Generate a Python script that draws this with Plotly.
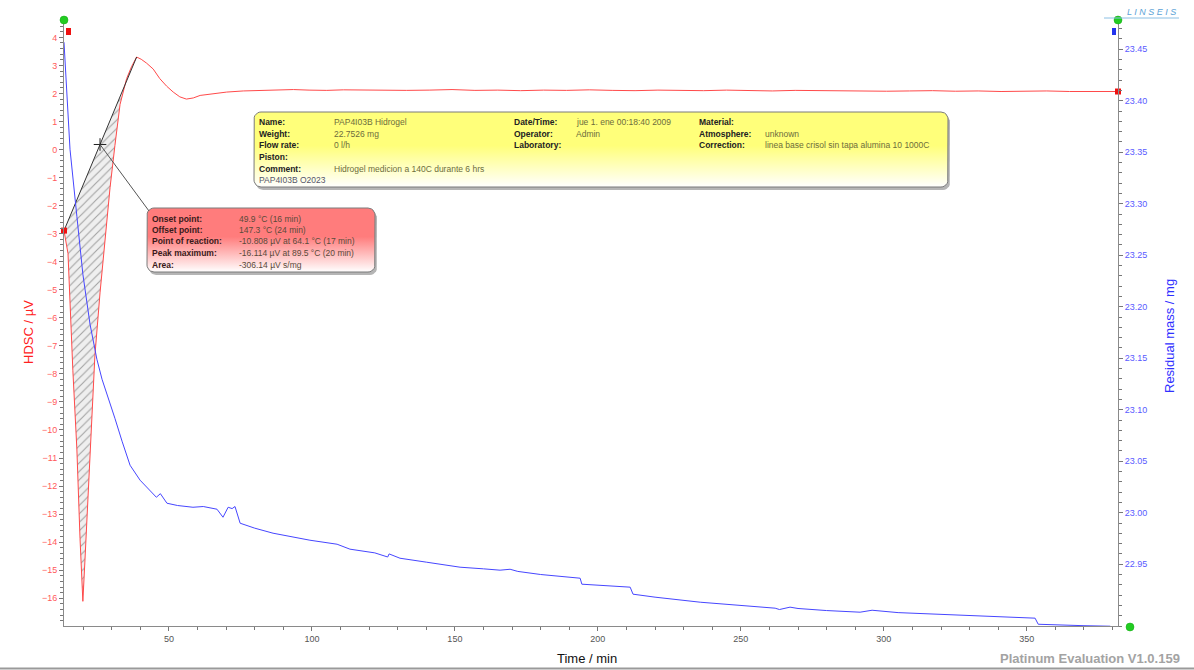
import numpy as np
import plotly.graph_objects as go

# ---------------- measured curves ----------------
# HDSC signal (µV) against time (min)
hdsc_time = [13.3, 14.7, 16.4, 17.8, 18.9, 19.9, 20.6, 22.4, 24.1, 25.9, 27.6, 29.4,
             31.1, 32.9, 35.2, 36.9, 38.7, 40.3, 42.2, 44.5, 46.8, 49.2, 51.5, 53.8,
             56.1, 58.5, 60.9, 65.5, 70.2, 76.0, 81.9, 87.5, 93.5, 99.0, 105.2, 111.0,
             116.8, 125.0, 133.0, 141.0, 149.0, 157.0, 165.0, 173.0, 181.0, 189.0,
             197.0, 205.0, 213.0, 221.0, 229.0, 237.0, 245.0, 253.0, 261.0, 269.0,
             277.0, 285.0, 293.0, 301.0, 309.0, 317.0, 325.0, 333.0, 341.0, 349.0,
             357.0, 365.0, 373.0, 381.9]
hdsc_uv = [-2.89, -3.71, -7.89, -10.68, -13.86, -16.11, -14.71, -10.68, -7.36, -5.11, -3.18, -1.36,
           0.14, 1.61, 2.53, 2.95, 3.30, 3.22, 3.08, 2.87, 2.53, 2.26, 2.05, 1.88,
           1.80, 1.84, 1.93, 2.00, 2.05, 2.09, 2.11, 2.12, 2.14, 2.12, 2.11, 2.13,
           2.12, 2.13, 2.11, 2.12, 2.14, 2.11, 2.12, 2.10, 2.12, 2.11, 2.13,
           2.11, 2.10, 2.12, 2.11, 2.10, 2.12, 2.10, 2.09, 2.11, 2.10, 2.09,
           2.10, 2.08, 2.09, 2.10, 2.08, 2.09, 2.07, 2.08, 2.09, 2.07, 2.08, 2.07]

# Residual mass (mg) against time (min)
mass_time = [13.3, 15.4, 17.8, 19.9, 22.4, 24.8, 26.6, 29.4, 31.1, 33.6, 36.4, 39.9,
             43.4, 45.6, 47.0, 49.3, 53.0, 58.4, 62.0, 66.8, 68.9, 70.7, 72.1, 73.1,
             74.9, 80.0, 86.4, 92.0, 99.3, 108.8, 113.3, 122.0, 126.5, 127.0, 130.8,
             140.0, 151.8, 160.0, 165.8, 169.3, 172.0, 180.0, 187.0, 193.8, 194.4,
             203.0, 211.3, 212.3, 220.0, 235.8, 250.0, 262.0, 263.5, 267.2, 270.0,
             280.0, 291.7, 295.9, 305.0, 319.7, 335.0, 352.9, 354.0, 360.0, 370.0, 379.2]
mass_mg = [23.4568, 23.3529, 23.2879, 23.2316, 23.1830, 23.1490, 23.1296, 23.1073, 23.0917,
           23.0694, 23.0461, 23.0316, 23.0218, 23.0150, 23.0185, 23.0092, 23.0070, 23.0053,
           23.0060, 23.0034, 22.9956, 23.0053, 23.0040, 23.0060, 22.9898, 22.9850, 22.9801,
           22.9770, 22.9733, 22.9694, 22.9646, 22.9610, 22.9570, 22.9600, 22.9558, 22.9520,
           22.9471, 22.9455, 22.9442, 22.9451, 22.9430, 22.9400, 22.9380, 22.9364, 22.9306,
           22.9290, 22.9277, 22.9209, 22.9180, 22.9131, 22.9100, 22.9073, 22.9060, 22.9083,
           22.9070, 22.9050, 22.9034, 22.9053, 22.9030, 22.9015, 22.9000, 22.8976, 22.8917,
           22.8910, 22.8903, 22.8898]

# Axis ranges and labelled ticks
time_range = [13.3, 381.9]
hdsc_range = [-16.99, 4.62]
mass_range = [22.890, 23.4784]
time_ticks = [50, 100, 150, 200, 250, 300, 350]
mass_ticks = [22.95, 23.00, 23.05, 23.10, 23.15, 23.20, 23.25, 23.30, 23.35, 23.40, 23.45]

# Peak evaluation
reaction_time = 25.9
info_rows = [
    ("Name:", "PAP4I03B Hidrogel", "Date/Time:", "jue 1. ene 00:18:40 2009", "Material:", ""),
    ("Weight:", "22.7526 mg", "Operator:", "Admin", "Atmosphere:", "unknown"),
    ("Flow rate:", "0 l/h", "Laboratory:", "", "Correction:", "linea base crisol sin tapa alumina 10 1000C"),
    ("Piston:", "", "", "", "", ""),
    ("Comment:", "Hidrogel medicion a 140C durante 6 hrs", "", "", "", ""),
]
info_footer = "PAP4I03B O2023"
peak_rows = [
    ("Onset point:", "49.9 °C (16 min)"),
    ("Offset point:", "147.3 °C (24 min)"),
    ("Point of reaction:", "-10.808 µV at 64.1 °C (17 min)"),
    ("Peak maximum:", "-16.114 µV at 89.5 °C (20 min)"),
    ("Area:", "-306.14 µV s/mg"),
]

# ---------------- page geometry (pixels) ----------------
W, H = 1194, 670
L, R, T, B = 64, 1118, 20, 626
FONT = "Liberation Sans"


def px(x):
    return (x - L) / (R - L)


def py(y):
    return (B - y) / (B - T)


def to_px(t, v):
    xp = L + (t - time_range[0]) / (time_range[1] - time_range[0]) * (R - L)
    yp = B - (v - hdsc_range[0]) / (hdsc_range[1] - hdsc_range[0]) * (B - T)
    return xp, yp


def rounded_rect(x0, y0, x1, y1, r):
    xs, ys = [], []
    corners = [(x1 - r, y0 + r, -90, 0), (x1 - r, y1 - r, 0, 90),
               (x0 + r, y1 - r, 90, 180), (x0 + r, y0 + r, 180, 270)]
    for cx, cy, a0, a1 in corners:
        for a in np.linspace(np.radians(a0), np.radians(a1), 7):
            xs.append(cx + r * np.cos(a))
            ys.append(cy + r * np.sin(a))
    xs.append(xs[0])
    ys.append(ys[0])
    return xs, ys


fig = go.Figure()

# Hatched peak area between the curve and the straight baseline
t_arr = np.array(hdsc_time)
v_arr = np.array(hdsc_uv)
i_off = int(np.argmax(v_arr[:20]))
onset = (t_arr[0], v_arr[0])
offset = (t_arr[i_off], v_arr[i_off])
poly_t = list(t_arr[:i_off + 1]) + [onset[0]]
poly_v = list(v_arr[:i_off + 1]) + [onset[1]]
fig.add_trace(go.Scatter(
    x=poly_t, y=poly_v, mode="lines", fill="toself", line=dict(width=0),
    fillcolor="rgba(235,235,235,1)",
    fillpattern=dict(shape="/", fgcolor="#555555", bgcolor="#efefef", size=6, solidity=0.18),
    hoverinfo="skip", showlegend=False))

# HDSC curve
fig.add_trace(go.Scatter(x=hdsc_time, y=hdsc_uv, mode="lines",
                         line=dict(color="#ff4a4a", width=1), showlegend=False))

# Baseline and reaction point
fig.add_trace(go.Scatter(x=[onset[0], offset[0]], y=[onset[1], offset[1]], mode="lines",
                         line=dict(color="#333333", width=1), showlegend=False))
reaction_v = float(np.interp(reaction_time, [onset[0], offset[0]], [onset[1], offset[1]]))
fig.add_trace(go.Scatter(x=[reaction_time], y=[reaction_v], mode="markers",
                         marker=dict(symbol="cross-thin", size=9,
                                     line=dict(color="#222222", width=1)),
                         showlegend=False))

# Start / end markers of the HDSC curve
fig.add_trace(go.Scatter(x=[hdsc_time[0], hdsc_time[-1]], y=[hdsc_uv[0], hdsc_uv[-1]],
                         mode="markers", cliponaxis=False,
                         marker=dict(symbol="square", size=6, color="#ee1111"),
                         showlegend=False))

# Residual mass curve
fig.add_trace(go.Scatter(x=mass_time, y=mass_mg, mode="lines", yaxis="y2",
                         line=dict(color="#4646ff", width=1), showlegend=False))

# ---------------- info boxes (pixel overlay axes) ----------------
def box(x0, y0, x1, y1, top_color):
    sx, sy = rounded_rect(x0 + 2, y0 + 3, x1 + 2, y1 + 3, 7)
    fig.add_trace(go.Scatter(x=sx, y=sy, xaxis="x3", yaxis="y3", mode="lines",
                             fill="toself", fillcolor="rgba(90,90,90,0.45)",
                             line=dict(width=0), hoverinfo="skip", showlegend=False))
    bx, by = rounded_rect(x0, y0, x1, y1, 7)
    fig.add_trace(go.Scatter(x=bx, y=by, xaxis="x3", yaxis="y3", mode="lines",
                             fill="toself",
                             fillgradient=dict(type="vertical", start=y0, stop=y1,
                                               colorscale=[[0, top_color], [0.45, top_color], [1, "#ffffff"]]),
                             line=dict(color="#7a7a7a", width=1),
                             hoverinfo="skip", showlegend=False))


box(254, 112, 948, 187, "#ffff7a")
box(147, 208, 375, 272, "#ff7c7c")

annotations = []


def text(x, y, s, size=8.5, color="#222222", bold=False, anchor="left", angle=0, italic=False):
    if bold:
        s = f"<b>{s}</b>"
    if italic:
        s = f"<i>{s}</i>"
    annotations.append(dict(
        x=px(x), y=py(y), xref="paper", yref="paper", showarrow=False,
        text=s, xanchor=anchor, yanchor="middle", textangle=angle,
        font=dict(family=FONT, size=size, color=color)))


row_y = [122, 133.5, 145, 157, 168.5]
for (l1, v1, l2, v2, l3, v3), yy in zip(info_rows, row_y):
    text(257, yy, l1, bold=True)
    text(332, yy, v1, color="#6d6d3c")
    if l2:
        text(512, yy, l2, bold=True)
        text(574, yy, v2, color="#6d6d3c")
    if l3:
        text(697, yy, l3, bold=True)
        text(763, yy, v3, color="#6d6d3c")
text(257, 180, info_footer, color="#55556a")

for (lab, val), yy in zip(peak_rows, [219, 230, 241.5, 253, 265]):
    text(150, yy, lab, bold=True, color="#3a1a1a")
    text(237, yy, val, color="#5a4a3a")

# Axis titles and page texts
text(28, 332, "HDSC / µV", size=13, color="#ff2020", anchor="center", angle=-90)
text(1169, 336, "Residual mass / mg", size=13, color="#3030ff", anchor="center", angle=-90)
text(587, 658, "Time / min", size=13, color="#111111", anchor="center")
text(1182, 658, "Platinum Evaluation V1.0.159", size=13, color="#a3a3a3", anchor="right", bold=True)
text(1178, 12, "L I N S E I S", size=9, color="#5aa2d6", anchor="right", italic=True)

# ---------------- decorative shapes ----------------
shapes = []
# connector from reaction point to the peak box
cx, cy = to_px(reaction_time, reaction_v)
shapes.append(dict(type="line", xref="paper", yref="paper", x0=px(cx), y0=py(cy),
                   x1=px(149), y1=py(211), line=dict(color="#555555", width=1)))
# axis end handles
for gx, gy in [(64, 20), (1118, 20), (1130, 627)]:
    shapes.append(dict(type="circle", xref="paper", yref="paper",
                       x0=px(gx - 4), x1=px(gx + 4), y0=py(gy - 4), y1=py(gy + 4),
                       fillcolor="#22cc22", line=dict(color="#11aa11", width=0.5)))
shapes.append(dict(type="rect", xref="paper", yref="paper", x0=px(66), x1=px(71),
                   y0=py(28), y1=py(35), fillcolor="#ee1111", line=dict(width=0)))
shapes.append(dict(type="rect", xref="paper", yref="paper", x0=px(1112), x1=px(1116),
                   y0=py(28), y1=py(35), fillcolor="#2233ee", line=dict(width=0)))
# logo underline
shapes.append(dict(type="line", xref="paper", yref="paper", x0=px(1104), x1=px(1179),
                   y0=py(18), y1=py(18), line=dict(color="#8cc0e4", width=1)))
# window frame at the bottom
shapes.append(dict(type="line", xref="paper", yref="paper", x0=px(0), x1=px(W),
                   y0=py(668.5), y1=py(668.5), line=dict(color="#9a9a9a", width=2)))

tick_common = dict(ticks="outside", tickcolor="#777777", showgrid=False, zeroline=False,
                   showline=True, linecolor="#8a8a8a", linewidth=1)

fig.update_layout(
    width=W, height=H,
    margin=dict(l=L, r=W - R, t=T, b=H - B),
    paper_bgcolor="white", plot_bgcolor="white",
    showlegend=False,
    xaxis=dict(range=time_range, tickmode="array", tickvals=time_ticks, ticklen=4,
               tickfont=dict(family=FONT, size=9, color="#555555"),
               minor=dict(dtick=10, tick0=0, ticklen=3, ticks="outside", tickcolor="#777777"),
               **tick_common),
    yaxis=dict(range=hdsc_range, tick0=0, dtick=1, ticklen=4,
               tickfont=dict(family=FONT, size=9, color="#ff5a5a"),
               minor=dict(dtick=0.2, tick0=0, ticklen=3, ticks="outside", tickcolor="#777777"),
               **tick_common),
    yaxis2=dict(range=mass_range, overlaying="y", side="right", anchor="x",
                tickmode="array", tickvals=mass_ticks, tickformat=".2f", ticklen=4,
                tickfont=dict(family=FONT, size=9, color="#5a5aff"),
                minor=dict(dtick=0.01, tick0=0, ticklen=3, ticks="outside", tickcolor="#777777"),
                **tick_common),
    xaxis3=dict(range=[L, R], overlaying="x", anchor="y3", visible=False, fixedrange=True),
    yaxis3=dict(range=[B, T], overlaying="y", anchor="x3", visible=False, fixedrange=True),
    annotations=annotations,
    shapes=shapes,
)

fig.write_html("out.html")
